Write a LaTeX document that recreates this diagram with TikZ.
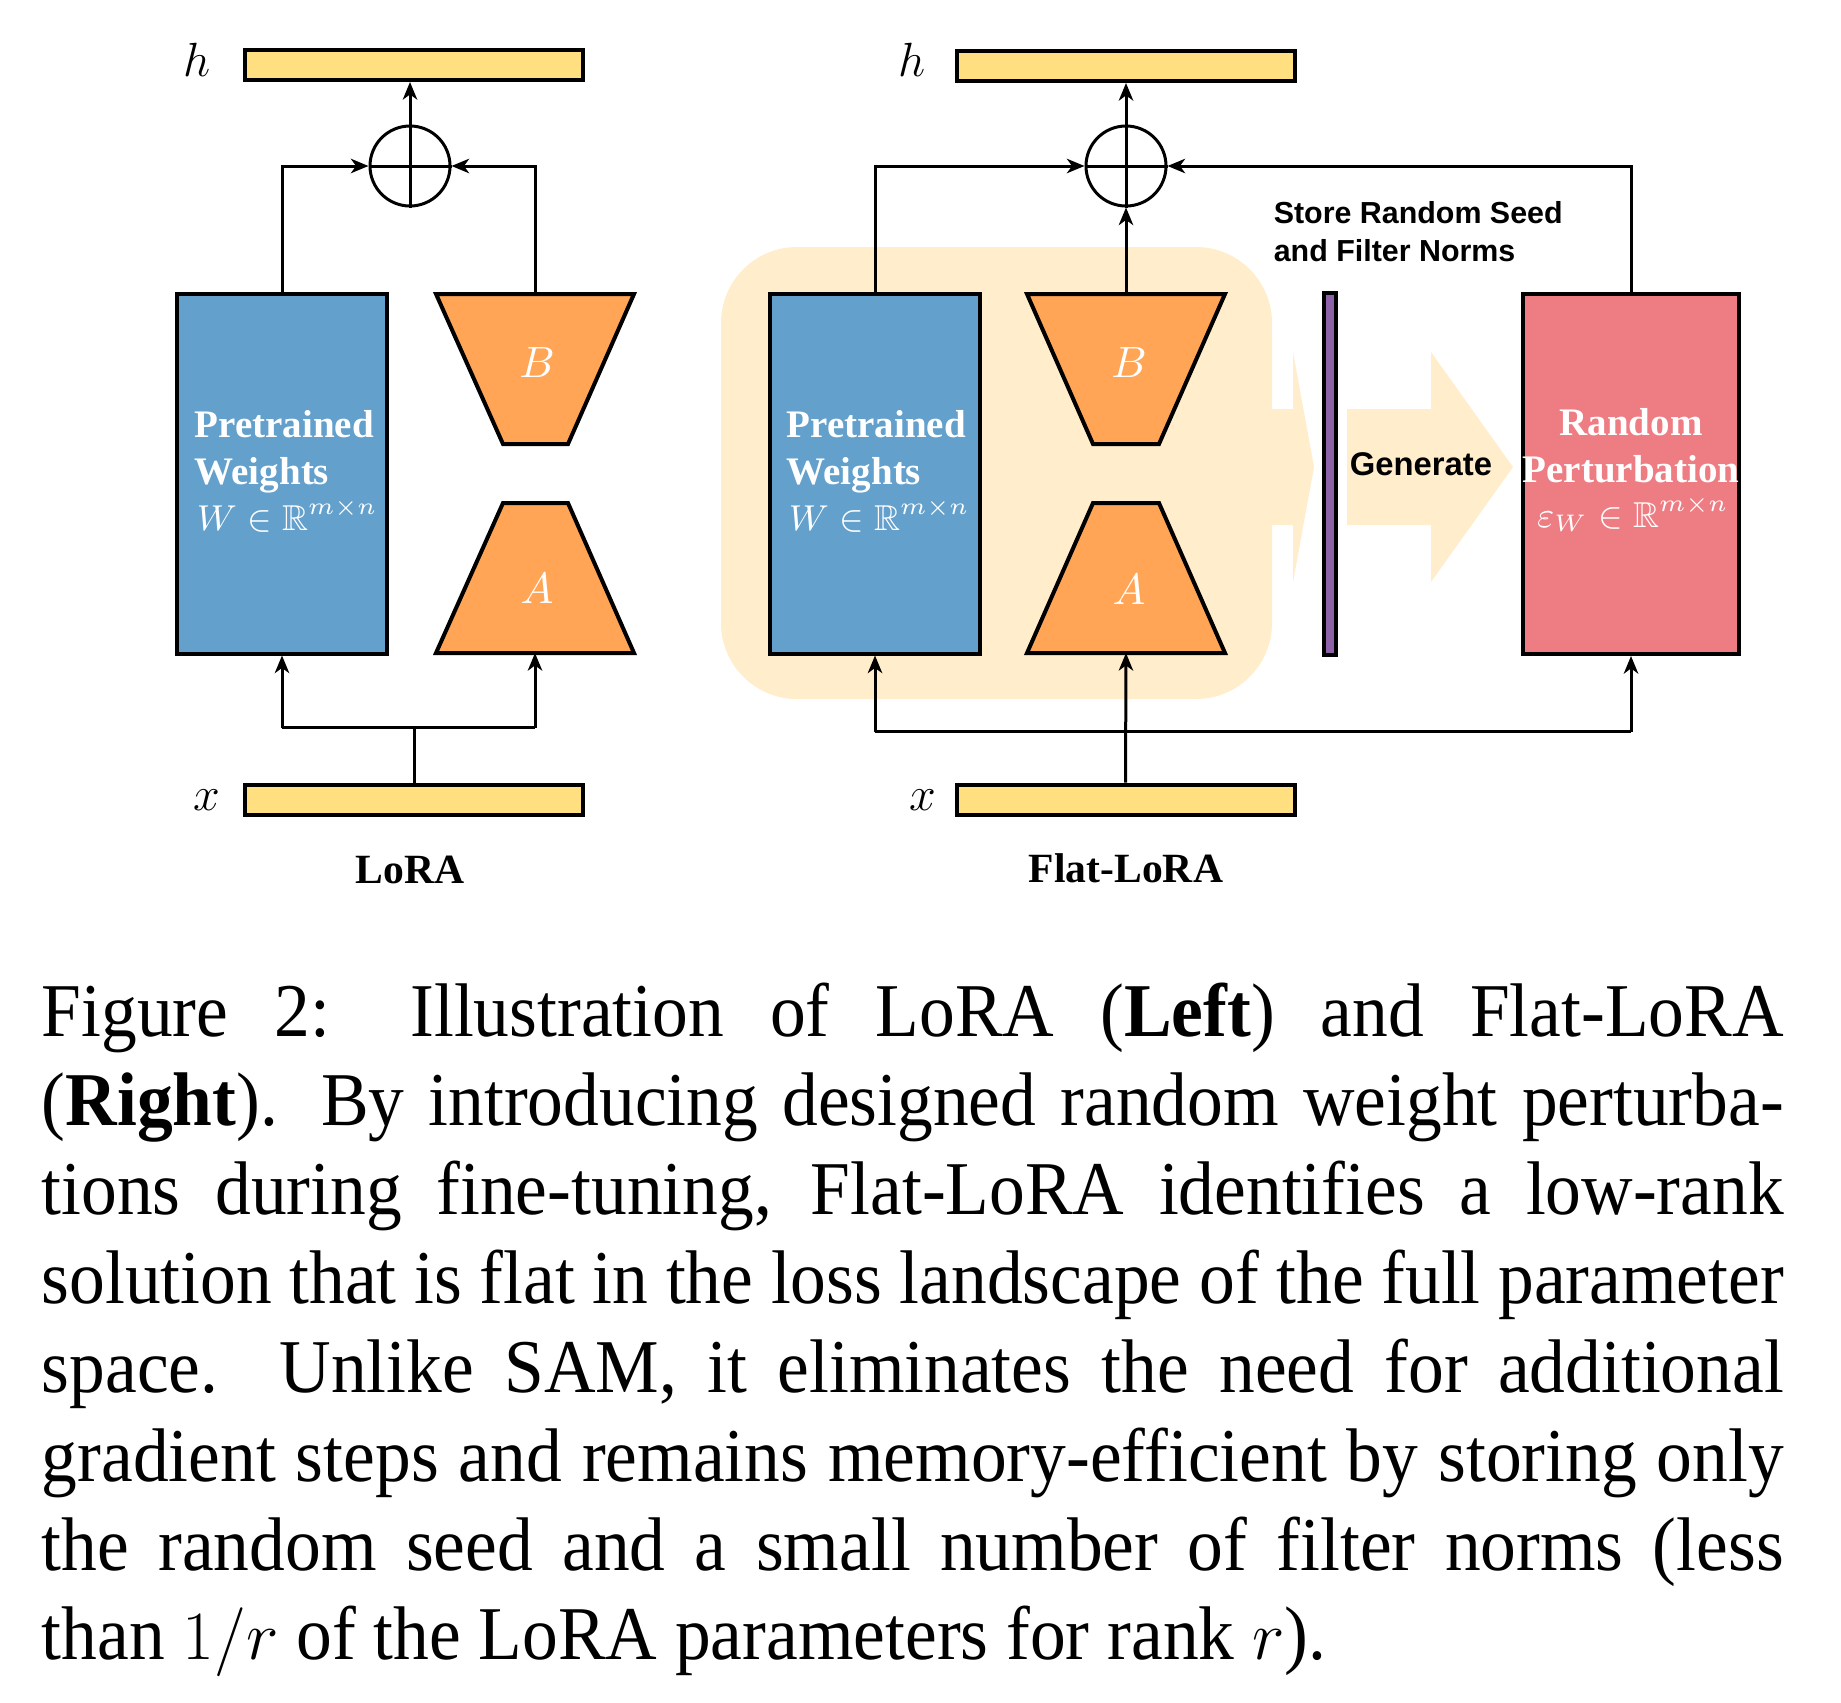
\documentclass[tikz,border=0pt]{standalone}
\usepackage{fontspec}
\usepackage{amssymb}
\setmainfont{Liberation Serif}
\newfontfamily\capfont{Liberation Serif}[FakeStretch=0.94]
\newfontfamily\arialf{Liberation Sans}
\usetikzlibrary{arrows.meta}
\definecolor{barY}{HTML}{FFDF80}
\definecolor{wBlue}{HTML}{63A0CB}
\definecolor{tOrange}{HTML}{FFA555}
\definecolor{pPink}{HTML}{EE7D83}
\definecolor{bgBeige}{HTML}{FFEDCC}
\definecolor{sPurple}{HTML}{8E62A8}
\begin{document}
\begin{tikzpicture}[x=0.25pt,y=-0.25pt,
  bar/.style={rectangle, draw, line width=1pt, fill=barY, minimum width=84.5pt, minimum height=7.5pt, inner sep=0pt},
  wbox/.style={rectangle, draw, line width=1pt, fill=wBlue, minimum width=52.5pt, minimum height=90pt, inner sep=0pt},
  pbox/.style={rectangle, draw, line width=1pt, fill=pPink, minimum width=54pt, minimum height=90pt, inner sep=0pt},
  seedbar/.style={rectangle, draw, line width=1pt, fill=sPurple, minimum width=3pt, minimum height=90.5pt, inner sep=0pt},
  trap/.style={draw, line width=1pt, fill=tOrange, line join=miter},
  sumc/.style={circle, draw, line width=0.75pt, minimum size=20pt, inner sep=0pt},
  conn/.style={line width=0.75pt},
  arr/.style={conn, -{Stealth[length=4.4pt,width=3.6pt,inset=1.3pt]}},
  wtext/.style={text=white, font=\fontsize{9.75}{11}\selectfont\bfseries, inner sep=0pt},
  wmath/.style={text=white, font=\fontsize{9}{11}\selectfont, inner sep=0pt},
  varlab/.style={font=\fontsize{11.5}{13}\selectfont, inner sep=0pt, anchor=base},
  trlab/.style={text=white, font=\fontsize{10.8}{12}\selectfont, inner sep=0pt, anchor=base},
  titlab/.style={font=\fontsize{10.4}{12}\selectfont\bfseries, inner sep=0pt, anchor=base},
  sanslab/.style={font=\arialf\bfseries\fontsize{7.6}{9}\selectfont, inner sep=0pt, anchor=base west},
  capline/.style={font=\capfont\fontsize{19}{22}\selectfont, inner sep=0pt, anchor=base west}
]
\useasboundingbox (0,0) rectangle (1841,1702);

% ---------- background of Flat-LoRA ----------
\fill[bgBeige, rounded corners=19pt] (721,247) rectangle (1272,699);
\fill[bgBeige] (1265,409) -- (1293,409) -- (1293,352) -- (1314,467) -- (1293,582) -- (1293,525) -- (1265,525) -- cycle;
\fill[bgBeige] (1347,409) -- (1431,409) -- (1431,352) -- (1513,467) -- (1431,582) -- (1431,525) -- (1347,525) -- cycle;

% ---------- LoRA (left) ----------
\node[bar] (hL) at (414,65) {};
\node[bar] (xL) at (414,799.5) {};
\node[varlab] (hLlab) at (197,77) {$h$};
\node[varlab] (xLlab) at (207,810) {$x$};
\node[wbox] (WL) at (282,473.5) {};
\draw[trap] (436,294) -- (634,294) -- (568,444) -- (503,444) -- cycle;
\draw[trap] (503,503) -- (568,503) -- (634,653) -- (436,653) -- cycle;
\coordinate (BLtop) at (535,294);
\coordinate (ALbot) at (535,653);
\node[sumc] (sL) at (410,166) {};
\draw[conn] (sL.north) -- (sL.south) (sL.west) -- (sL.east);
\node[wtext, anchor=base west] (WLt1) at (194,437) {Pretrained};
\node[wtext, anchor=base west] (WLt2) at (194,484) {Weights};
\node[wmath, anchor=base west] (WLt3) at (196,530) {$W\in\mathbb{R}^{m\times n}$};
\node[trlab] (BLt) at (537,377) {$B$};
\node[trlab] (ALt) at (537,603) {$A$};
\node[titlab] (loraT) at (410,883) {LoRA};

\draw[arr] (WL.north) |- (sL.west);
\draw[arr] (BLtop) |- (sL.east);
\draw[arr] (sL.north) -- (sL.north |- hL.south);
\path (xL.north) ++(0,-55) coordinate (jL);
\draw[conn] (xL.north) -- (jL);
\draw[conn] (WL.south |- jL) -- (ALbot |- jL);
\draw[arr] (WL.south |- jL) -- (WL.south);
\draw[arr] (ALbot |- jL) -- (ALbot);

% ---------- Flat-LoRA (right) ----------
\node[bar] (hR) at (1126,66) {};
\node[bar] (xR) at (1125.5,799.5) {};
\node[varlab] (hRlab) at (912,77) {$h$};
\node[varlab] (xRlab) at (923,810) {$x$};
\node[wbox] (WR) at (875,473.5) {};
\draw[trap] (1027,294) -- (1225,294) -- (1159,444) -- (1093,444) -- cycle;
\draw[trap] (1093,503) -- (1159,503) -- (1225,653) -- (1027,653) -- cycle;
\coordinate (BRtop) at (1126,294);
\coordinate (ARbot) at (1126,653);
\node[sumc] (sR) at (1126,166) {};
\draw[conn] (sR.north) -- (sR.south) (sR.west) -- (sR.east);
\node[seedbar] (SB) at (1330,474) {};
\node[pbox] (PR) at (1631,474) {};
\node[wtext, anchor=base west] (WRt1) at (786,437) {Pretrained};
\node[wtext, anchor=base west] (WRt2) at (786,484) {Weights};
\node[wmath, anchor=base west] (WRt3) at (788,530) {$W\in\mathbb{R}^{m\times n}$};
\node[trlab] (BRt) at (1129,377) {$B$};
\node[trlab] (ARt) at (1129,604) {$A$};
\node[wtext, anchor=base] (PRt1) at (1631,435) {Random};
\node[wtext, anchor=base] (PRt2) at (1631,482) {Perturbation};
\node[wmath, anchor=base] (PRt3) at (1633,527) {$\varepsilon_W\in\mathbb{R}^{m\times n}$};
\node[sanslab] (st1) at (1273,223) {Store Random Seed};
\node[sanslab] (st2) at (1273,261) {and Filter Norms};
\node[sanslab, font=\arialf\bfseries\fontsize{8.2}{10}\selectfont] (gen) at (1349,475) {Generate};
\node[titlab] (flatT) at (1126,882) {Flat-LoRA};

\draw[arr] (WR.north) |- (sR.west);
\draw[arr] (BRtop) -- (sR.south);
\draw[arr] (PR.north) |- (sR.east);
\draw[arr] (sR.north) -- (hR.south);
\draw[arr] (xR.north) -- (ARbot);
\path (WR.south) ++(0,76) coordinate (jR);
\draw[conn] (jR) -- (PR.south |- jR);
\draw[arr] (jR) -- (WR.south);
\draw[arr] (PR.south |- jR) -- (PR.south);

% ---------- caption ----------
\node[capline] (c1) at (41,1036) {\makebox[435.5pt][s]{Figure 2: Illustration of LoRA (\textbf{Left}) and Flat-LoRA}};
\node[capline] (c2) at (41,1125) {\makebox[435.5pt][s]{(\textbf{Right}). By introducing designed random weight perturba-}};
\node[capline] (c3) at (41,1214) {\makebox[435.5pt][s]{tions during fine-tuning, Flat-LoRA identifies a low-rank}};
\node[capline] (c4) at (41,1303) {\makebox[435.5pt][s]{solution that is flat in the loss landscape of the full parameter}};
\node[capline] (c5) at (41,1392) {\makebox[435.5pt][s]{space. Unlike SAM, it eliminates the need for additional}};
\node[capline] (c6) at (41,1481) {\makebox[435.5pt][s]{gradient steps and remains memory-efficient by storing only}};
\node[capline] (c7) at (41,1570) {\makebox[435.5pt][s]{the random seed and a small number of filter norms (less}};
\node[capline] (c8) at (41,1659) {than $1/r$ of the LoRA parameters for rank $r$).};
\end{tikzpicture}
\end{document}
